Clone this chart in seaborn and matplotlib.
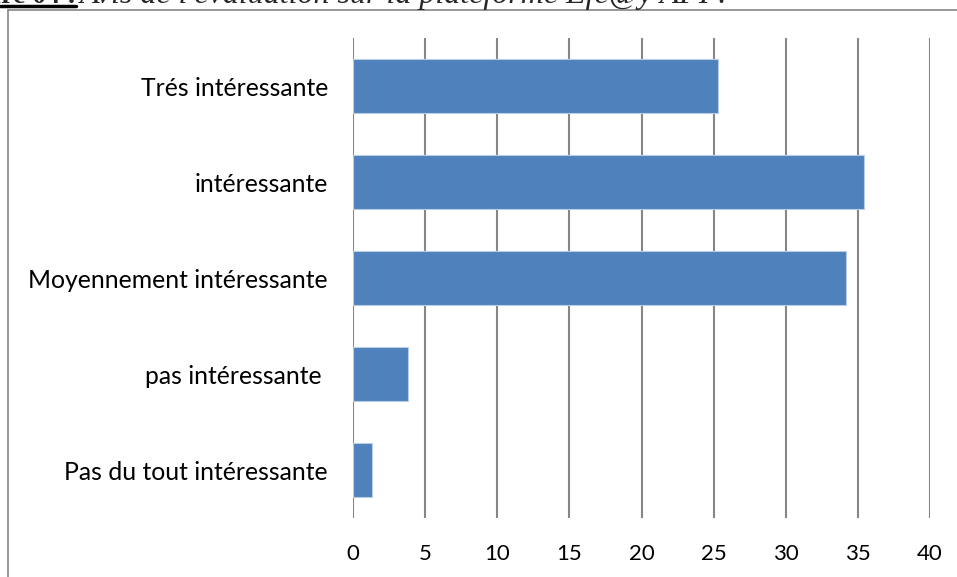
import matplotlib
matplotlib.use("Agg")
import matplotlib.pyplot as plt
import seaborn as sns
import pandas as pd
from matplotlib.lines import Line2D

categories = ["Trés intéressante", "intéressante", "Moyennement intéressante",
              "pas intéressante ", "Pas du tout intéressante"]
values = [25.3, 35.4, 34.2, 3.8, 1.3]
xticks = [0, 5, 10, 15, 20, 25, 30, 35, 40]

df = pd.DataFrame({"cat": categories, "val": values})

sns.set_theme(style="white")
plt.rcParams["font.family"] = ["Lato", "DejaVu Sans"]

W, H = 957, 577
fig = plt.figure(figsize=(W / 100, H / 100), dpi=100)
ax = fig.add_axes([353 / W, 1 - 518 / H, (930 - 353) / W, (518 - 38) / H])

sns.barplot(data=df, x="val", y="cat", orient="h", color="#4F81BD",
            width=0.57, edgecolor="#B9CDE5", linewidth=0.8, saturation=1, ax=ax, zorder=3)

ax.set_xlim(0, 40)
ax.set_xticks(xticks)
ax.set_xticklabels([str(t) for t in xticks])
ax.set_ylim(4.5, -0.5)
ax.set_xlabel("")
ax.set_ylabel("")
for s in ax.spines.values():
    s.set_visible(False)
ax.grid(False)
for t in xticks:
    ax.axvline(t, color="#868686", linewidth=1.5, zorder=1)
ax.tick_params(axis="x", length=0, pad=19, labelsize=16, colors="black")
ax.tick_params(axis="y", length=0, pad=18, labelsize=17.8, colors="black")

# outer chart frame
fig.add_artist(Line2D([8 / W, 8 / W], [0, 1 - 10 / H], transform=fig.transFigure,
                      color="#868686", linewidth=1.2))
fig.add_artist(Line2D([8 / W, 1], [1 - 10 / H, 1 - 10 / H], transform=fig.transFigure,
                      color="#868686", linewidth=1.2))

# clipped caption at top
fig.text(76 / W, 1 - 3 / H, "Figure 04 :", fontsize=20, fontweight="bold",
         family="Liberation Serif", va="baseline", ha="right")
fig.add_artist(Line2D([0, 76 / W], [1 - 6 / H, 1 - 6 / H], transform=fig.transFigure,
                      color="black", linewidth=2.5))
fig.text(80 / W, 1 - 3 / H, "Avis de l'évaluation sur la plateforme Efe@y API :", fontsize=23,
         fontstyle="italic", family="Liberation Serif", va="baseline", ha="left")

fig.savefig("out.png", dpi=100)
